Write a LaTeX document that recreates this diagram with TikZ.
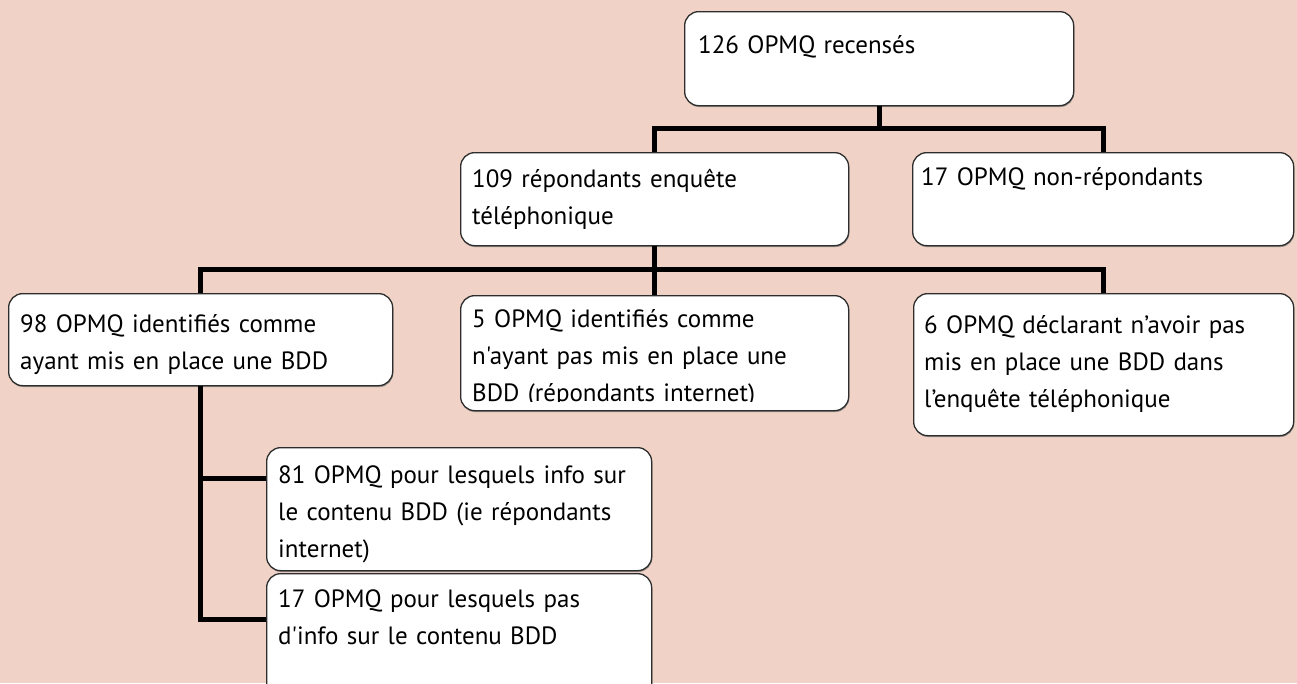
\documentclass[tikz,border=0pt]{standalone}
\usepackage{fontspec}
\newfontfamily\boxfont[WordSpace=0.7]{PT Sans}
\usetikzlibrary{shadows}
\definecolor{bg}{RGB}{240,211,198}
\definecolor{edge}{RGB}{45,45,45}
\begin{document}
\begin{tikzpicture}[x=1pt,y=-1pt,
  box/.style={draw=edge, line width=1.3pt, fill=white, rounded corners=14pt, inner sep=0pt, anchor=north west,
    drop shadow={shadow xshift=0.6pt, shadow yshift=-1.4pt, fill=black!55, opacity=0.7}},
  txt/.style={anchor=base west, inner sep=0pt, text width=#1, align=left,
    font=\boxfont\fontsize{25}{37}\selectfont},
  conn/.style={line width=5pt, black}]
\useasboundingbox (0,0) rectangle (1297,683);
\fill[bg] (0,0) rectangle (1297,683);

% boxes
\node[box, minimum width=389pt, minimum height=94pt] (b1) at (684,11) {};
\node[box, minimum width=388pt, minimum height=93pt] (b2) at (460,152) {};
\node[box, minimum width=381pt, minimum height=93pt] (b3) at (912,152) {};
\node[box, minimum width=384pt, minimum height=92pt] (b4) at (8,293) {};
\node[box, minimum width=388pt, minimum height=115pt] (b5) at (460,295) {};
\node[box, minimum width=380pt, minimum height=142pt] (b6) at (913,293) {};
\node[box, minimum width=385pt, minimum height=123pt] (b7) at (266,447) {};
\node[box, minimum width=385pt, minimum height=140pt] (b8) at (266,573) {};

% texts
\node[txt=370pt] (t1) at (698,53) {126 OPMQ recensés};
\node[txt=370pt] (t2) at (472,187) {109 répondants enquête\\téléphonique};
\node[txt=365pt] (t3) at (921,185) {17 OPMQ non-répondants};
\node[txt=365pt] (t4) at (20,332) {98 OPMQ identifiés comme\\ayant mis en place une BDD};
\begin{scope}
\clip (460,295) rectangle (848,401);
\node[txt=365pt] (t5) at (472,327) {5 OPMQ identifiés comme\\n'ayant pas mis en place une\\BDD (répondants internet)};
\end{scope}
\node[txt=365pt] (t6) at (924,333) {6 OPMQ déclarant n’avoir pas\\mis en place une BDD dans\\l’enquête téléphonique};
\node[txt=365pt] (t7) at (278,483) {81 OPMQ pour lesquels info sur\\le contenu BDD (ie répondants\\internet)};
\node[txt=365pt] (t8) at (278,607) {17 OPMQ pour lesquels pas\\d'info sur le contenu BDD};

% connectors
\draw[conn] (b1.south) -- ++(0,22) coordinate (j1);
\draw[conn] (j1) -| (b2.north);
\draw[conn] (j1) -| (b3.north);
\draw[conn] (b2.south) -- ++(0,23) coordinate (j2);
\draw[conn] (j2) -| (b4.north);
\draw[conn] (j2) -| (b5.north);
\draw[conn] (j2) -| (b6.north);
\draw[conn] (b4.south) |- ([yshift=-31pt]b7.north west);
\draw[conn] (b4.south) |- ([yshift=-46pt]b8.north west);
\end{tikzpicture}
\end{document}
